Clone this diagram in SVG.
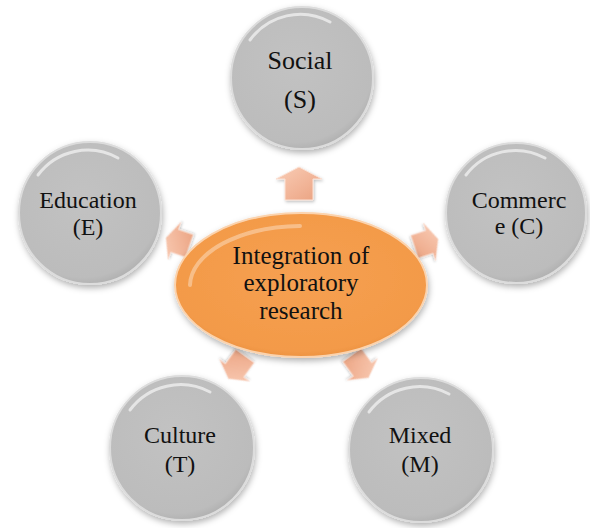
<svg xmlns="http://www.w3.org/2000/svg" width="590" height="528" viewBox="0 0 590 528">
  <style>
    .lbl { font-family: 'Liberation Serif', 'DejaVu Serif', serif; font-size: 24px; fill: #111; text-anchor: middle; }
    .big { font-size: 26px; }
    .clbl { font-family: 'Liberation Serif', 'DejaVu Serif', serif; font-size: 25px; fill: #111; text-anchor: middle; }
    .circ { fill: url(#gray); stroke: #dcdcdc; stroke-width: 2; filter: url(#shadow); }
    .gloss { fill: none; stroke: #ffffff; stroke-opacity: 0.6; stroke-width: 3; stroke-linecap: round; }
    .arr { fill: url(#peach); stroke: #fbe1d4; stroke-width: 1; filter: url(#ashadow); }
  </style>
  <defs>
    <radialGradient id="gray" cx="0.45" cy="0.4" r="0.65">
      <stop offset="0" stop-color="#c2c2c2"/>
      <stop offset="0.85" stop-color="#bcbcbc"/>
      <stop offset="1" stop-color="#a9a9a9"/>
    </radialGradient>
    <radialGradient id="orange" cx="0.5" cy="0.45" r="0.6">
      <stop offset="0" stop-color="#f6a052"/>
      <stop offset="0.85" stop-color="#f39a48"/>
      <stop offset="1" stop-color="#e58a3a"/>
    </radialGradient>
    <linearGradient id="peach" x1="0" y1="0" x2="1" y2="1">
      <stop offset="0" stop-color="#f9cdb6"/>
      <stop offset="0.6" stop-color="#f1b396"/>
      <stop offset="1" stop-color="#e9a17f"/>
    </linearGradient>
    <filter id="shadow" x="-20%" y="-20%" width="140%" height="140%">
      <feDropShadow dx="1" dy="3" stdDeviation="3" flood-color="#000" flood-opacity="0.3"/>
    </filter>
    <filter id="ashadow" x="-30%" y="-30%" width="160%" height="160%">
      <feDropShadow dx="1" dy="1.5" stdDeviation="1.5" flood-color="#000" flood-opacity="0.25"/>
    </filter>
    <path id="arrow" d="M0,-17 L23,-5 L14,-5 L14,16 L-14,16 L-14,-5 L-23,-5 Z"/>
  </defs>

  <rect width="590" height="528" fill="#ffffff"/>

  <g id="connectors">
    <use href="#arrow" class="arr" transform="translate(299,184)"/>
    <use href="#arrow" class="arr" transform="translate(426,243) rotate(72) scale(0.85,0.75)"/>
    <use href="#arrow" class="arr" transform="translate(178,242) rotate(-71) scale(0.85,0.75)"/>
    <use href="#arrow" class="arr" transform="translate(237,367) rotate(216) scale(0.8,0.85)"/>
    <use href="#arrow" class="arr" transform="translate(360,366) rotate(144) scale(0.8,0.85)"/>
  </g>

  <g id="social">
    <circle class="circ" cx="302" cy="78" r="71"/>
    <path class="gloss" d="M250,40 A62,62 0 0 1 330,22"/>
    <text class="lbl big" x="300" y="69">Social</text>
    <text class="lbl big" x="300" y="108">(S)</text>
  </g>

  <g id="commerce">
    <circle class="circ" cx="516" cy="213" r="70"/>
    <path class="gloss" d="M466,175 A62,62 0 0 1 545,158"/>
    <text class="lbl" x="519" y="208">Commerc</text>
    <text class="lbl" x="519" y="234">e (C)</text>
  </g>

  <g id="education">
    <circle class="circ" cx="90" cy="213" r="71"/>
    <path class="gloss" d="M38,175 A62,62 0 0 1 118,158"/>
    <text class="lbl" x="88" y="208">Education</text>
    <text class="lbl" x="88" y="235">(E)</text>
  </g>

  <g id="culture">
    <circle class="circ" cx="182" cy="448" r="72"/>
    <path class="gloss" d="M130,410 A63,63 0 0 1 210,392"/>
    <text class="lbl" x="180" y="443">Culture</text>
    <text class="lbl" x="180" y="472">(T)</text>
  </g>

  <g id="mixed">
    <circle class="circ" cx="421" cy="450" r="72"/>
    <path class="gloss" d="M369,412 A63,63 0 0 1 449,394"/>
    <text class="lbl" x="420" y="443">Mixed</text>
    <text class="lbl" x="420" y="472">(M)</text>
  </g>

  <g id="center">
    <ellipse cx="301" cy="285" rx="126" ry="72" fill="url(#orange)" stroke="#fbd3ae" stroke-width="2" filter="url(#shadow)"/>
    <path d="M190,285 A112,60 0 0 1 300,226" fill="none" stroke="#ffffff" stroke-opacity="0.35" stroke-width="4" stroke-linecap="round"/>
    <text class="clbl" x="301" y="264">Integration of</text>
    <text class="clbl" x="301" y="291">exploratory</text>
    <text class="clbl" x="301" y="319">research</text>
  </g>
</svg>
